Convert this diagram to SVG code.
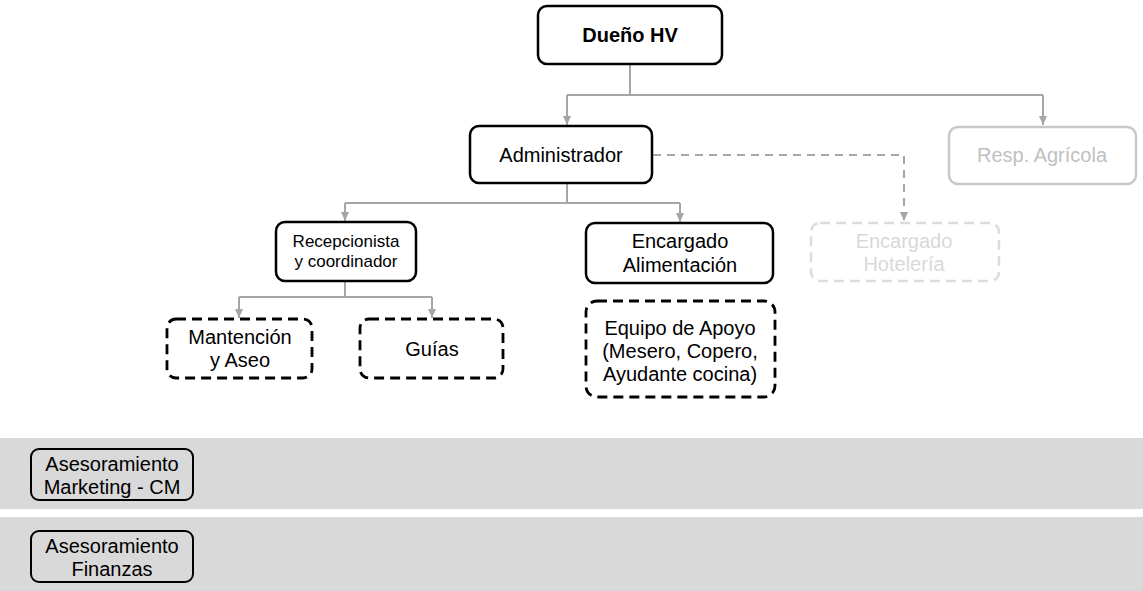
<svg xmlns="http://www.w3.org/2000/svg" width="1143" height="591" viewBox="0 0 1143 591">
<style>
.box{fill:#fff;stroke:#000;stroke-width:2.5}
.dash{fill:#fff;stroke:#000;stroke-width:2.8;stroke-dasharray:10 6}
.t{font-family:"Liberation Sans",Arial,sans-serif;font-size:20px;fill:#000;text-anchor:middle}
.s{font-size:17px}
.c{fill:none;stroke:#a6a6a6;stroke-width:2}
</style>
<defs>
<marker id="a" markerWidth="10" markerHeight="10" refX="9" refY="5" orient="auto" markerUnits="userSpaceOnUse">
<path d="M0,1 L9,5 L0,9 z" fill="#a6a6a6"/>
</marker>
</defs>
<rect x="0" y="438" width="1143" height="71" fill="#d9d9d9"/>
<rect x="0" y="517" width="1143" height="74" fill="#d9d9d9"/>
<g id="connectors">
<path class="c" d="M630,65 V95"/>
<path class="c" d="M567,95 H1043"/>
<path class="c" d="M567,95 V125" marker-end="url(#a)"/>
<path class="c" d="M1043,95 V125" marker-end="url(#a)"/>
<path class="c" d="M653,155 H904 V221" stroke-dasharray="8 6" marker-end="url(#a)"/>
<path class="c" d="M567,184 V203 M345,203 H680"/>
<path class="c" d="M345,203 V221" marker-end="url(#a)"/>
<path class="c" d="M680,203 V222" marker-end="url(#a)"/>
<path class="c" d="M345,281 V297 M239,297 H432"/>
<path class="c" d="M239,297 V318" marker-end="url(#a)"/>
<path class="c" d="M432,297 V318" marker-end="url(#a)"/>
</g>
<g id="dueno">
<rect class="box" x="538" y="6" width="184" height="58" rx="9"/>
<text class="t" x="630" y="42" font-weight="bold">Dueño HV</text>
</g>
<g id="administrador">
<rect class="box" x="470" y="126" width="182" height="57" rx="9"/>
<text class="t" x="561" y="162">Administrador</text>
</g>
<g id="resp-agricola">
<rect x="949" y="127" width="187" height="57" rx="9" fill="#fff" stroke="#c8c8c8" stroke-width="2.5"/>
<text class="t" x="1042" y="162" style="fill:#bfbfbf">Resp. Agrícola</text>
</g>
<g id="encargado-hoteleria">
<rect x="811" y="223" width="188" height="58" rx="9" fill="#fff" stroke="#dcdcdc" stroke-width="2.5" stroke-dasharray="10 6"/>
<text class="t" x="904" y="248" style="fill:#d9d9d9">Encargado</text>
<text class="t" x="904" y="271" style="fill:#d9d9d9">Hotelería</text>
</g>
<g id="recepcionista">
<rect class="box" x="276" y="222" width="140" height="59" rx="9"/>
<text class="t s" x="346" y="247">Recepcionista</text>
<text class="t s" x="346" y="267">y coordinador</text>
</g>
<g id="encargado-alimentacion">
<rect class="box" x="586" y="223" width="187" height="60" rx="9"/>
<text class="t" x="680" y="248">Encargado</text>
<text class="t" x="680" y="272">Alimentación</text>
</g>
<g id="mantencion">
<rect class="dash" x="167" y="319" width="145" height="59" rx="9"/>
<text class="t" x="240" y="344">Mantención</text>
<text class="t" x="240" y="367">y Aseo</text>
</g>
<g id="guias">
<rect class="dash" x="360" y="319" width="143" height="59" rx="9"/>
<text class="t" x="432" y="356">Guías</text>
</g>
<g id="equipo-apoyo">
<rect class="dash" x="586" y="301" width="189" height="96" rx="11"/>
<text class="t" x="680" y="335">Equipo de Apoyo</text>
<text class="t" x="680" y="358">(Mesero, Copero,</text>
<text class="t" x="680" y="381">Ayudante cocina)</text>
</g>
<g id="asesoramiento-marketing">
<rect x="31" y="449" width="162" height="51" rx="8" fill="none" stroke="#000" stroke-width="2"/>
<text class="t" x="112" y="471">Asesoramiento</text>
<text class="t" x="112" y="494">Marketing - CM</text>
</g>
<g id="asesoramiento-finanzas">
<rect x="31" y="531" width="162" height="51" rx="8" fill="none" stroke="#000" stroke-width="2"/>
<text class="t" x="112" y="553">Asesoramiento</text>
<text class="t" x="112" y="576">Finanzas</text>
</g>
</svg>
